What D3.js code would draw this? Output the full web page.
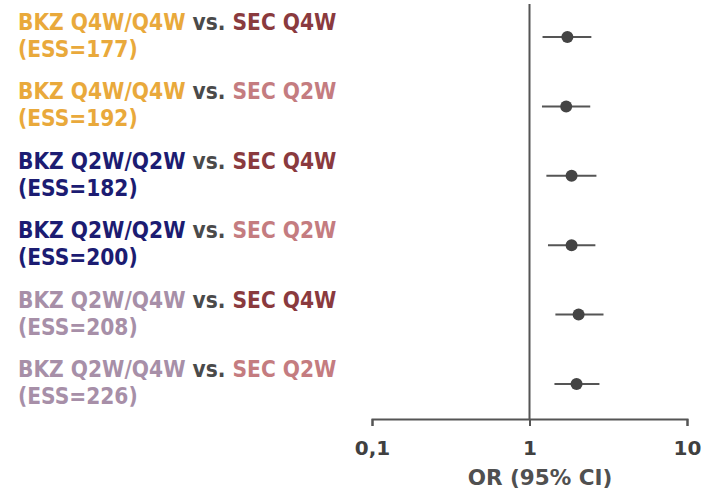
<!DOCTYPE html>
<html>
<head>
<meta charset="utf-8">
<script src="https://cdn.jsdelivr.net/npm/d3@7"></script>
<style>
  body { margin: 0; background: #fff; }
  svg text { font-family: "DejaVu Sans", Verdana, sans-serif; font-weight: bold; }
  svg .label text { font-family: "DejaVu Sans Condensed", "DejaVu Sans", sans-serif; }
</style>
</head>
<body>
<div id="chart"></div>
<script>
//Datos del gráfico
const bkzLabels = ['BKZ Q4W/Q4W', 'BKZ Q4W/Q4W', 'BKZ Q2W/Q2W', 'BKZ Q2W/Q2W', 'BKZ Q2W/Q4W', 'BKZ Q2W/Q4W'];
const secLabels = ['SEC Q4W', 'SEC Q2W', 'SEC Q4W', 'SEC Q2W', 'SEC Q4W', 'SEC Q2W'];
const essValues = [177, 192, 182, 200, 208, 226];
const orValues = [1.74, 1.71, 1.85, 1.85, 2.05, 1.99];
const ciLow = [1.21, 1.20, 1.28, 1.31, 1.46, 1.44];
const ciHigh = [2.47, 2.43, 2.66, 2.62, 2.95, 2.78];
const tickValues = [0.1, 1, 10];
const tickLabels = ['0,1', '1', '10'];

//Colores
const COLOR_BKZ = { 'BKZ Q4W/Q4W': '#E9A93B', 'BKZ Q2W/Q2W': '#1C1C72', 'BKZ Q2W/Q4W': '#A78FA8' };
const COLOR_SEC = { 'SEC Q4W': '#8A3A3E', 'SEC Q2W': '#C47C80' };
const COLOR_VS = '#4A4A4A', COLOR_AXIS = '#555555', COLOR_POINT = '#444444';

let width = 702, height = 489;

let svg = d3.select('#chart')
    .append('svg')
    .attr('width', width)
    .attr('height', height);

let rows = d3.range(bkzLabels.length);

let x = d3.scaleLog()
    .domain([0.1, 10])
    .range([372, 687]);

let y = d3.scalePoint()
    .domain(rows)
    .range([37, 384]);

let axisY = 419;

//Eje X
let xAxis = d3.axisBottom(x)
    .tickValues(tickValues)
    .tickSize(7)
    .tickSizeOuter(7)
    .tickFormat(function(d, i) { return tickLabels[i]; });

let gAxis = svg.append('g')
    .attr('transform', 'translate(0,' + axisY + ')')
    .call(xAxis);

gAxis.select('.domain').attr('stroke', COLOR_AXIS).attr('stroke-width', 2);
gAxis.selectAll('.tick line').attr('stroke', COLOR_AXIS).attr('stroke-width', 2);
gAxis.selectAll('.tick text')
    .attr('y', 36)
    .attr('dy', 0)
    .attr('fill', '#404040')
    .style('font-size', '20px');

svg.append('text')
    .attr('x', 540)
    .attr('y', 485)
    .attr('text-anchor', 'middle')
    .attr('fill', '#505050')
    .style('font-size', '21.5px')
    .text('OR (95% CI)');

//Línea de referencia en 1
svg.append('line')
    .attr('x1', x(1)).attr('x2', x(1))
    .attr('y1', 4).attr('y2', axisY)
    .attr('stroke', COLOR_AXIS)
    .attr('stroke-width', 2);

//Intervalos de confianza
svg.append('g')
    .selectAll('line')
    .data(rows)
    .enter()
    .append('line')
    .attr('x1', function(i) { return x(ciLow[i]); })
    .attr('x2', function(i) { return x(ciHigh[i]); })
    .attr('y1', function(i) { return y(i); })
    .attr('y2', function(i) { return y(i); })
    .attr('stroke', '#555555')
    .attr('stroke-width', 2);

svg.append('g')
    .selectAll('circle')
    .data(rows)
    .enter()
    .append('circle')
    .attr('cx', function(i) { return x(orValues[i]); })
    .attr('cy', function(i) { return y(i); })
    .attr('r', 6)
    .attr('fill', COLOR_POINT);

//Etiquetas
let labels = svg.append('g')
    .attr('class', 'label')
    .selectAll('g')
    .data(rows)
    .enter()
    .append('g')
    .attr('transform', function(i) { return 'translate(18,' + y(i) + ')'; });

let line1 = labels.append('text')
    .attr('y', -7)
    .style('font-size', '22.5px');

line1.append('tspan')
    .attr('fill', function(i) { return COLOR_BKZ[bkzLabels[i]]; })
    .text(function(i) { return bkzLabels[i]; });
line1.append('tspan')
    .attr('fill', COLOR_VS)
    .text(' vs. ');
line1.append('tspan')
    .attr('fill', function(i) { return COLOR_SEC[secLabels[i]]; })
    .text(function(i) { return secLabels[i]; });

labels.append('text')
    .attr('y', 20)
    .style('font-size', '22.5px')
    .attr('fill', function(i) { return COLOR_BKZ[bkzLabels[i]]; })
    .text(function(i) { return '(ESS=' + essValues[i] + ')'; });
</script>
</body>
</html>
